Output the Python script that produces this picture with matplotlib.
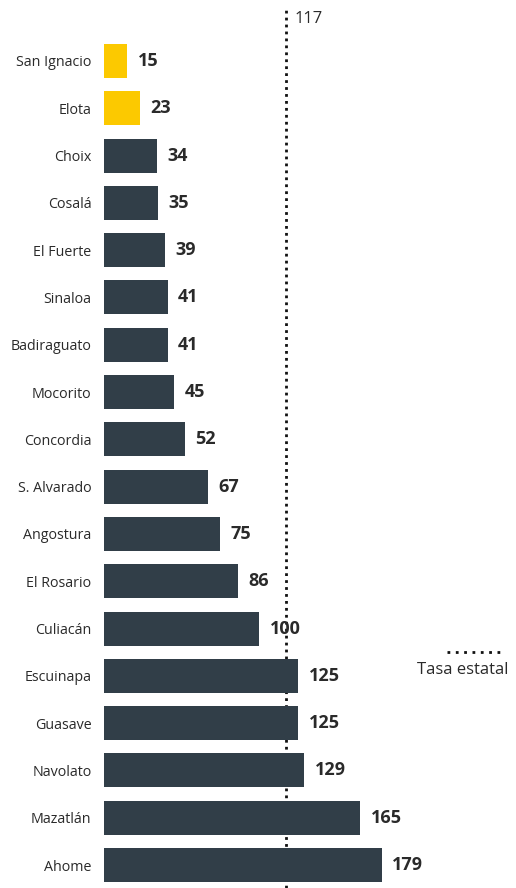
import matplotlib.pyplot as plt

plt.rcParams['font.family'] = ['Open Sans', 'DejaVu Sans']

# municipios y tasas
municipios = ['San Ignacio', 'Elota', 'Choix', 'Cosalá', 'El Fuerte', 'Sinaloa',
              'Badiraguato', 'Mocorito', 'Concordia', 'S. Alvarado', 'Angostura',
              'El Rosario', 'Culiacán', 'Escuinapa', 'Guasave', 'Navolato',
              'Mazatlán', 'Ahome']
tasas = [15, 23, 34, 35, 39, 41, 41, 45, 52, 67, 75, 86, 100, 125, 125, 129, 165, 179]
destacados = ['San Ignacio', 'Elota']
tasa_estatal = 117

oscuro = '#313e48'
amarillo = '#fcc900'
colores = [amarillo if m in destacados else oscuro for m in municipios]

W, H = 516, 888
fig = plt.figure(figsize=(W / 100, H / 100), dpi=100)
ax = fig.add_axes([104 / W, 0, (W - 104) / W, 1])

ypos = list(range(len(municipios)))
ax.barh(ypos, tasas, height=0.72, color=colores, zorder=3)

# escala: 1.553 px por unidad
ax.set_xlim(0, (W - 104) / 1.553)
ax.set_ylim(17 + (888 - 865) / 47.3, -61 / 47.3)

ax.set_yticks(ypos)
ax.set_yticklabels(municipios, fontsize=10.3, color='#2a2a2a')
ax.tick_params(axis='y', length=0, pad=9)
ax.set_xticks([])
for s in ax.spines.values():
    s.set_visible(False)

for y, v in zip(ypos, tasas):
    ax.annotate(str(v), (v, y), xytext=(7.5, 0), textcoords='offset points',
                ha='left', va='center', fontsize=13, fontweight='bold',
                color='#2a2a2a', zorder=4)

# linea de tasa estatal (detras de las barras)
ax.axvline(tasa_estatal, ymin=0, ymax=1 - 8 / H, color='#111111',
           linestyle=(0, (1, 1.5)), linewidth=2, zorder=1)
ax.annotate(str(tasa_estatal), (tasa_estatal, 0), xycoords=('data', 'figure pixels'),
            xytext=(6, H - 19), textcoords=('offset points', 'figure pixels'),
            ha='left', va='center', fontsize=12, color='#2a2a2a')

# leyenda
fig.add_artist(plt.Line2D([447 / W, 500 / W], [1 - 652 / H, 1 - 652 / H],
                          color='#111111', linestyle=(0, (1, 2)), linewidth=2))
fig.text(463 / W, 1 - 670 / H, 'Tasa estatal', ha='center', va='center',
         fontsize=12, color='#2a2a2a')

fig.savefig('out.png', dpi=100)
